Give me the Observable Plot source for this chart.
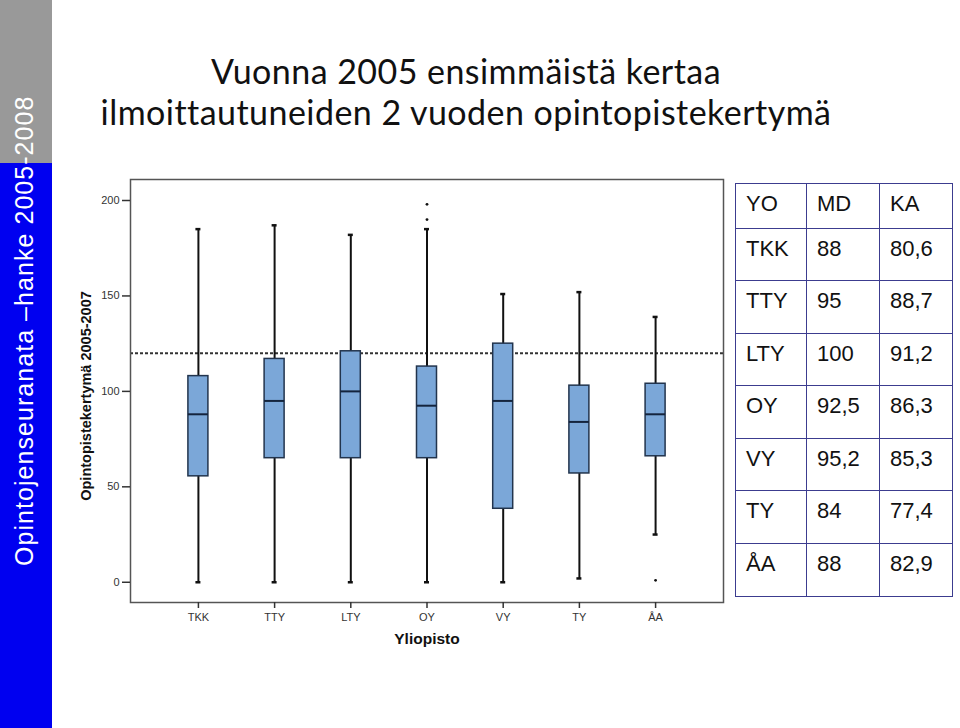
<!DOCTYPE html>
<html>
<head>
<meta charset="utf-8">
<script src="https://cdn.jsdelivr.net/npm/d3@7"></script>
<script src="https://cdn.jsdelivr.net/npm/@observablehq/plot@0.6"></script>
<style>
  html, body { margin: 0; padding: 0; background: #fff; }
  body { width: 960px; height: 728px; position: relative; overflow: hidden; font-family: "Liberation Sans", Arial, sans-serif; }
  #sidebar-gray { position: absolute; left: 0; top: 0; width: 52px; height: 163px; background: #999999; }
  #sidebar-blue { position: absolute; left: 0; top: 163px; width: 52px; height: 565px; background: #0000f0; }
  #sidebar-text { position: absolute; left: 12px; top: 566px; transform-origin: 0 0; transform: rotate(-90deg);
    white-space: nowrap; color: #fff; font-size: 25px; line-height: 25px; letter-spacing: 1.05px;
    font-family: "Liberation Sans", Arial, sans-serif; }
  .title { position: absolute; left: 66px; width: 800px; text-align: center; font-family: Lato, "Open Sans", sans-serif;
    font-size: 34px; line-height: 40px; letter-spacing: 0.45px; color: #111; white-space: nowrap; }
  #chart { position: absolute; left: 60px; top: 170px; }
  #table { position: absolute; left: 735px; top: 183px; border-collapse: collapse; }
  #table td { border: 1.5px solid #3c3c8f; padding: 7px 10px 0 10px; vertical-align: top; font-size: 22px; line-height: 25px;
    color: #111; font-family: "Liberation Sans", Arial, sans-serif; box-sizing: border-box; }
</style>
</head>
<body>
<div id="sidebar-gray"></div>
<div id="sidebar-blue"></div>
<div id="sidebar-text"></div>
<div class="title" id="title1" style="top:51px"></div>
<div class="title" id="title2" style="top:92px"></div>
<div id="chart"></div>
<table id="table"></table>
<script>
// ---- Data ----
const sidebarLabel = "Opintojenseuranata –hanke 2005-2008";
const titleLines = ["Vuonna 2005 ensimmäistä kertaa", "ilmoittautuneiden 2 vuoden opintopistekertymä"];
const yAxisTitle = "Opintopistekertymä 2005-2007";
const xAxisTitle = "Yliopisto";

const universities = ["TKK", "TTY", "LTY", "OY", "VY", "TY", "ÅA"];
const whiskerLow  = [0, 0, 0, 0, 0, 2, 25];
const boxQ1       = [55.5, 65, 65, 65, 38.5, 57, 66];
const boxMedian   = [88, 95, 100, 92.5, 95, 84, 88];
const boxQ3       = [108, 117, 121, 113, 125, 103, 104];
const whiskerHigh = [185, 187, 182, 185, 151, 152, 139];

const outlierUniversity = ["OY", "OY", "ÅA"];
const outlierValue      = [198, 190, 1];

const referenceLine = [120];
const yTicks = [0, 50, 100, 150, 200];

const tableHeader = ["YO", "MD", "KA"];
const tableMD = ["88", "95", "100", "92,5", "95,2", "84", "88"];
const tableKA = ["80,6", "88,7", "91,2", "86,3", "85,3", "77,4", "82,9"];

// ---- Text ----
document.getElementById("sidebar-text").textContent = sidebarLabel;
document.getElementById("title1").textContent = titleLines[0];
document.getElementById("title2").textContent = titleLines[1];

// ---- Chart ----
const idx = universities.map((_, i) => i);
const outliers = outlierUniversity.map((u, i) => ({u, v: outlierValue[i]}));
const X = i => universities[i];

const chart = Plot.plot({
  width: 680,
  height: 490,
  marginLeft: 70,
  marginRight: 17,
  marginTop: 9,
  marginBottom: 58,
  style: {fontFamily: "'Liberation Sans', Arial, sans-serif", fontSize: "11px", color: "#333", background: "#fff"},
  x: {type: "band", domain: universities, paddingInner: 0.7375, paddingOuter: 0.76, round: false, label: null},
  y: {domain: [-10.6, 211], label: null},
  marks: [
    Plot.ruleY(referenceLine, {stroke: "#333", strokeWidth: 2, strokeDasharray: "3,2"}),
    Plot.ruleX(idx, {x: X, y1: i => whiskerLow[i], y2: i => whiskerHigh[i], stroke: "#111", strokeWidth: 2}),
    Plot.tickY(idx, {x: X, y: i => whiskerHigh[i], stroke: "#111", strokeWidth: 2.5, insetLeft: 7.5, insetRight: 7.5}),
    Plot.tickY(idx, {x: X, y: i => whiskerLow[i], stroke: "#111", strokeWidth: 2.5, insetLeft: 7.5, insetRight: 7.5}),
    Plot.barY(idx, {x: X, y1: i => boxQ1[i], y2: i => boxQ3[i], fill: "#7ba7d8", stroke: "#22344d", strokeWidth: 1.5}),
    Plot.tickY(idx, {x: X, y: i => boxMedian[i], stroke: "#14243d", strokeWidth: 2}),
    Plot.dot(outliers, {x: "u", y: "v", r: 1.4, fill: "#111", stroke: null}),
    Plot.frame({stroke: "#555", strokeWidth: 1.5}),
    Plot.axisY({ticks: yTicks, tickSize: 8, tickPadding: 3, label: null, stroke: "#333", strokeWidth: 1.5}),
    Plot.axisX({tickSize: 6, tickPadding: 5, label: null, stroke: "#333", strokeWidth: 1.5}),
    Plot.text([yAxisTitle], {frameAnchor: "left", dx: -44, dy: 5, rotate: -90, textAnchor: "middle", lineAnchor: "middle",
      fontWeight: "bold", fontSize: 14.5, fill: "#111"}),
    Plot.text([xAxisTitle], {frameAnchor: "bottom", dy: 37, textAnchor: "middle", lineAnchor: "middle",
      fontWeight: "bold", fontSize: 15.5, fill: "#111"})
  ]
});
document.getElementById("chart").appendChild(chart);

// ---- Table ----
const table = document.getElementById("table");
const colWidths = [71, 73, 73];
function addRow(cells, h) {
  const tr = document.createElement("tr");
  cells.forEach((c, j) => {
    const td = document.createElement("td");
    td.textContent = c;
    td.style.width = colWidths[j] + "px";
    td.style.height = h + "px";
    tr.appendChild(td);
  });
  table.appendChild(tr);
}
addRow(tableHeader, 44.5);
universities.forEach((u, i) => addRow([u, tableMD[i], tableKA[i]], 52.6));
</script>
</body>
</html>
